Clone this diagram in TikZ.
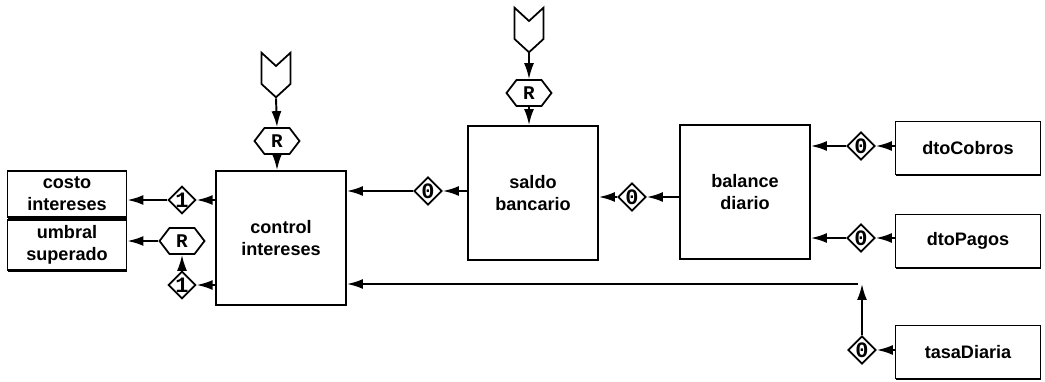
\documentclass[tikz,border=0pt]{standalone}
\usepackage{fontspec}
\setmainfont{Liberation Sans}
\newfontfamily\tagfont{Liberation Mono}
\usetikzlibrary{positioning, shapes.geometric, shapes.symbols, arrows.meta, shadows}

\tikzset{
  boxtext/.style={align=center, font=\bfseries\fontsize{10.3}{12.5}\selectfont},
  proc/.style={draw, boxtext, line width=1.1pt, minimum width=2.6cm, minimum height=2.68cm},
  ext/.style={draw, boxtext, fill=white, line width=1.1pt,
    drop shadow={shadow xshift=0.3pt, shadow yshift=-1.1pt, opacity=1, fill=black}},
  tag/.style={draw, diamond, fill=white, line width=1pt, inner sep=0pt,
    minimum width=0.42cm, minimum height=0.54cm, font=\tagfont\bfseries\fontsize{12.5}{12.5}\selectfont},
  hexr/.style={draw, signal, signal to=west and east, signal pointer angle=105, fill=white,
    line width=1pt, inner sep=0pt, minimum width=0.9cm, minimum height=0.52cm,
    font=\tagfont\bfseries\fontsize{11}{11}\selectfont},
  inport/.style={draw, signal, signal from=north, signal to=south, signal pointer angle=95,
    line width=1pt, inner sep=0pt, minimum width=0.58cm, minimum height=0.36cm},
  flow/.style={line width=1.1pt, -{Latex[length=3.2mm, width=2mm]}}
}

\begin{document}
\begin{tikzpicture}[x=0.02cm, y=-0.02cm]
\useasboundingbox (0,0) rectangle (1045,382);

% processes
\node[proc] (ctrl) at (281,238) {control\\intereses};
\node[proc] (saldo) at (533,193) {saldo\\bancario};
\node[proc] (balance) at (745,192) {balance\\diario};

% external stores
\node[ext, minimum width=2.9cm, minimum height=1.06cm] (cobros) at (968,148) {dtoCobros};
\node[ext, minimum width=2.9cm, minimum height=1.06cm] (pagos) at (968,241) {dtoPagos};
\node[ext, minimum width=2.9cm, minimum height=1.06cm] (tasa) at (968,352) {tasaDiaria};
\node[ext, minimum width=2.38cm, minimum height=0.88cm] (costo) at (67,194) {costo\\intereses};
\node[ext, minimum width=2.38cm, minimum height=0.88cm] (umbral) at (67,245) {umbral\\superado};

% triggers on top
\node[inport] (in1) at (276,75) {};
\node[hexr] (r1) at (277,141) {R};
\node[inport] (in2) at (529,30) {};
\node[hexr] (r2) at (529,93) {R};

% tags on the flows
\node[tag] (t1) at (182,200) {1};
\node[hexr] (r3) at (182,241) {R};
\node[tag] (t2) at (182,285) {1};
\node[tag] (t3) at (428,191) {0};
\node[tag] (t4) at (632,197) {0};
\node[tag] (t5) at (861,146) {0};
\node[tag] (t6) at (861,238) {0};
\node[tag] (t7) at (862,350) {0};
\coordinate (join) at (862,284);

% flows
\draw[flow] (in1.south) -- (r1.north);
\draw[flow] (r1.south) -- (r1.south |- ctrl.north);
\draw[flow] (in2.south) -- (r2.north);
\draw[flow] (r2.south) -- (r2.south |- saldo.north);

\draw[flow] (ctrl.west |- t1) -- (t1.east);
\draw[flow] (t1.west) -- (t1 -| costo.east);
\draw[flow] (ctrl.west |- t2) -- (t2.east);
\draw[flow] (t2.north) -- (r3.south);
\draw[flow] (r3.west) -- (r3 -| umbral.east);

\draw[flow] (saldo.west |- t3) -- (t3.east);
\draw[flow] (t3.west) -- (t3 -| ctrl.east);
\draw[flow] (balance.west |- t4) -- (t4.east);
\draw[flow] (t4.west) -- (t4 -| saldo.east);

\draw[flow] (t5 -| cobros.west) -- (t5.east);
\draw[flow] (t5.west) -- (t5 -| balance.east);
\draw[flow] (t6 -| pagos.west) -- (t6.east);
\draw[flow] (t6.west) -- (t6 -| balance.east);

\draw[flow] (t7 -| tasa.west) -- (t7.east);
\draw[flow] (t7.north) -- (join);
\draw[flow] ([xshift=-0.08cm]join) -- (join -| ctrl.east);

\end{tikzpicture}
\end{document}
